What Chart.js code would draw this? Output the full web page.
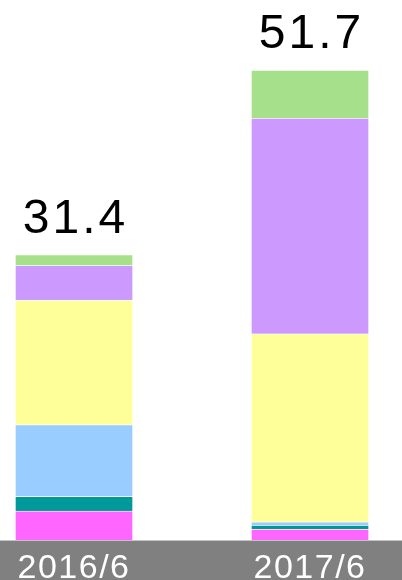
<!DOCTYPE html>
<html>
<head>
<meta charset="utf-8">
<script src="https://cdn.jsdelivr.net/npm/chart.js@4"></script>
<style>
  html, body { margin: 0; padding: 0; background: #fff; }
  #wrap { width: 402px; height: 580px; }
</style>
</head>
<body>
<div id="wrap"><canvas id="chart"></canvas></div>
<script>
const labels = ['2016/6', '2017/6'];
const totals = [31.4, 51.7];

// stacked segments, bottom to top
const seriesMagenta = [3.2, 1.2];
const seriesTeal = [1.6, 0.45];
const seriesBlue = [7.9, 0.35];
const seriesYellow = [13.7, 20.7];
const seriesPurple = [3.8, 23.7];
const seriesGreen = [1.2, 5.3];

const toPoints = (vals) => vals.map((v, i) => ({ x: i, y: v }));

const makeSet = (name, vals, color) => ({
  label: name,
  data: toPoints(vals),
  backgroundColor: color,
  borderColor: 'rgba(255,255,255,0.25)',
  borderWidth: 1,
  barThickness: 118
});

// gray band behind the category labels
const axisBand = {
  id: 'axisBand',
  beforeDraw(chart) {
    const { ctx, scales: { x } } = chart;
    ctx.save();
    ctx.fillStyle = '#808080';
    ctx.fillRect(0, x.top, chart.width, chart.height - x.top);
    ctx.fillStyle = '#c4c4c4';
    ctx.fillRect(0, x.top, chart.width, 1);
    ctx.restore();
    // slight tracking for the axis labels
    if ('letterSpacing' in ctx) ctx.letterSpacing = '1.5px';
  }
};

// totals above each stack
const totalLabels = {
  id: 'totalLabels',
  afterDatasetsDraw(chart) {
    const { ctx } = chart;
    const last = chart.getDatasetMeta(chart.data.datasets.length - 1);
    ctx.save();
    ctx.font = '48px "Liberation Sans", Arial, sans-serif';
    ctx.fillStyle = '#000';
    ctx.textAlign = 'center';
    ctx.textBaseline = 'alphabetic';
    if ('letterSpacing' in ctx) ctx.letterSpacing = '3px';
    last.data.forEach((bar, i) => {
      ctx.fillText(totals[i].toFixed(1), bar.x + 1.5, bar.y - 22);
    });
    ctx.restore();
  }
};

new Chart(document.getElementById('chart'), {
  type: 'bar',
  data: {
    datasets: [
      makeSet('A', seriesMagenta, '#ff66ff'),
      makeSet('B', seriesTeal, '#009999'),
      makeSet('C', seriesBlue, '#99ccff'),
      makeSet('D', seriesYellow, '#ffff99'),
      makeSet('E', seriesPurple, '#cc99ff'),
      makeSet('F', seriesGreen, '#a6e08a')
    ]
  },
  options: {
    responsive: true,
    maintainAspectRatio: false,
    animation: false,
    layout: { padding: 0 },
    plugins: {
      legend: { display: false },
      tooltip: { enabled: false }
    },
    scales: {
      x: {
        type: 'linear',
        stacked: true,
        offset: false,
        min: -0.3136,
        max: 1.3898,
        grid: { display: false, drawTicks: false, offset: false },
        border: { display: false },
        afterBuildTicks: (scale) => {
          scale.ticks = labels.map((_, i) => ({ value: i }));
        },
        afterFit: (scale) => { scale.height = 40; },
        ticks: {
          autoSkip: false,
          maxRotation: 0,
          padding: 8,
          color: '#fff',
          font: { family: '"Liberation Sans", Arial, sans-serif', size: 34 },
          callback: (v) => labels[v]
        }
      },
      y: {
        display: false,
        stacked: true,
        min: 0,
        max: 59.4
      }
    }
  },
  plugins: [axisBand, totalLabels]
});
</script>
</body>
</html>
